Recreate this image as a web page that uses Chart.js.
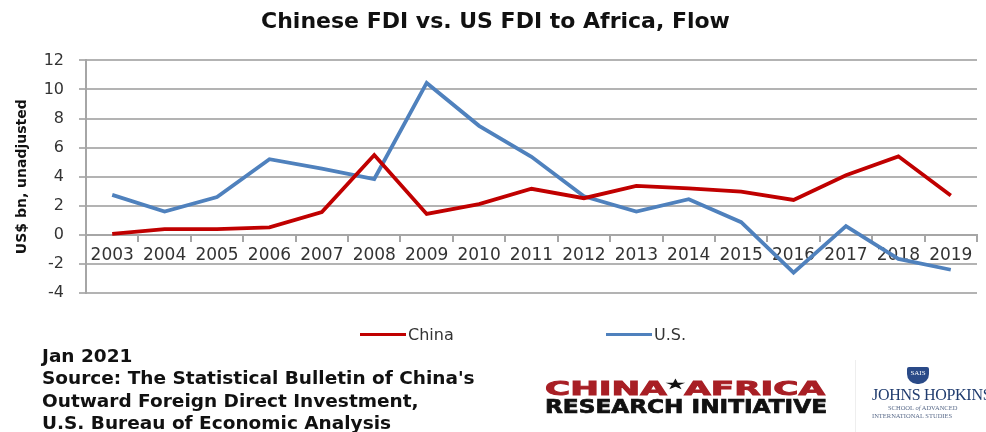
<!DOCTYPE html>
<html>
<head>
<meta charset="utf-8">
<script src="https://cdn.jsdelivr.net/npm/chart.js@4/dist/chart.umd.min.js"></script>
<style>
  html, body { margin: 0; padding: 0; background: #fff; }
  #wrap { position: relative; width: 986px; height: 432px; overflow: hidden; font-family: "DejaVu Sans", sans-serif; }
  #chart { position: absolute; left: 0; top: 0; }
  #legend { position: absolute; top: 325px; left: 0; width: 986px; height: 20px; font-size: 16px; color: #333; }
  #legend .item { position: absolute; top: 0; display: flex; align-items: center; }
  #legend .line { display: inline-block; width: 46px; height: 3px; margin-right: 2px; }
  #footer { position: absolute; left: 42px; top: 345px; font-weight: bold; font-size: 18.5px; line-height: 22.3px; color: #111; white-space: nowrap; }
  #logo { position: absolute; left: 0; top: 0; }
  #sep { position: absolute; left: 855px; top: 360px; width: 1px; height: 72px; background: #eee; }
  #jh { position: absolute; left: 872px; top: 367px; width: 120px; font-family: "Liberation Serif", serif; color: #1f3b6e; }
  #jh .shield { margin-left: 35px; width: 22px; height: 17px; background: #2a4a88; border-radius: 2px 2px 10px 10px; color: #fff; font-size: 7px; text-align: center; line-height: 12px; }
  #jh .name { font-size: 16px; letter-spacing: -0.3px; margin-top: 2px; white-space: nowrap; }
  #jh .sub { font-size: 6.5px; color: #5a6b8a; text-align: left; margin-left: 16px; line-height: 8px; white-space: nowrap; }
</style>
</head>
<body>
<div id="wrap">
  <canvas id="chart" width="986" height="432"></canvas>
  <div id="legend"></div>
  <div id="footer">Jan 2021<br>Source: The Statistical Bulletin of China's<br>Outward Foreign Direct Investment,<br>U.S. Bureau of Economic Analysis</div>
  <svg id="logo" width="986" height="432" font-family="DejaVu Sans" font-weight="bold">
    <text x="545" y="395" font-size="19.5" fill="#a81f25" stroke="#a81f25" stroke-width="0.9" textLength="280" lengthAdjust="spacingAndGlyphs">CHINA<tspan fill="#111" stroke="#111" font-size="11" dy="-7">★</tspan><tspan dy="7">AFRICA</tspan></text>
    <text x="545" y="413" font-size="19" fill="#111" stroke="#111" stroke-width="0.7" textLength="282" lengthAdjust="spacingAndGlyphs">RESEARCH INITIATIVE</text>
  </svg>
  <div id="sep"></div>
  <div id="jh"><div class="shield">SAIS</div><div class="name">JOHNS HOPKINS</div><div class="sub">SCHOOL <i>of</i> ADVANCED</div><div class="sub" style="margin-left:0">INTERNATIONAL STUDIES</div></div>
</div>
<script>
// 年份和数值
const years = ['2003', '2004', '2005', '2006', '2007', '2008', '2009', '2010', '2011',
               '2012', '2013', '2014', '2015', '2016', '2017', '2018', '2019'];
const chinaFdi = [0.07, 0.39, 0.39, 0.52, 1.57, 5.49, 1.44, 2.11, 3.17,
                  2.52, 3.37, 3.2, 2.98, 2.4, 4.1, 5.4, 2.7];
const usFdi = [2.75, 1.6, 2.6, 5.2, 4.55, 3.84, 10.45, 7.5, 5.37,
               2.65, 1.6, 2.45, 0.87, -2.6, 0.6, -1.65, -2.4];
const yTicks = [-4, -2, 0, 2, 4, 6, 8, 10, 12];

const seriesNames = ['China', 'U.S.'];
const seriesColors = ['#c00000', '#4f81bd'];

const ctx = document.getElementById('chart').getContext('2d');
const chart = new Chart(ctx, {
    type: 'line',
    data: {
        labels: years,
        datasets: [{
            label: seriesNames[0],
            data: chinaFdi,
            borderColor: seriesColors[0],
            borderWidth: 3.8,
            pointRadius: 0,
            tension: 0
        }, {
            label: seriesNames[1],
            data: usFdi,
            borderColor: seriesColors[1],
            borderWidth: 3.8,
            pointRadius: 0,
            tension: 0
        }]
    },
    options: {
        responsive: false,
        animation: false,
        layout: { padding: { left: 14, right: 9, top: 0, bottom: 139 } },
        plugins: {
            legend: { display: false },
            tooltip: { enabled: false },
            title: {
                display: true,
                text: 'Chinese FDI vs. US FDI to Africa, Flow',
                color: '#111',
                font: { family: 'DejaVu Sans', size: 22, weight: 'bold' },
                padding: { top: 9, bottom: 25 }
            }
        },
        scales: {
            x: {
                type: 'category',
                offset: true,
                position: { y: 0 },
                grid: { offset: true, drawOnChartArea: false, drawTicks: true, tickLength: 6, color: '#a6a6a6', lineWidth: 2 },
                border: { display: true, color: '#a6a6a6', width: 2 },
                ticks: { color: '#333', font: { family: 'DejaVu Sans', size: 17 }, padding: 5, maxRotation: 0, autoSkip: false }
            },
            y: {
                min: yTicks[0],
                max: yTicks[yTicks.length - 1],
                afterBuildTicks: s => { s.ticks = yTicks.map(v => ({ value: v })); },
                afterFit: s => { s.width = 72; },
                grid: { color: '#b3b3b3', lineWidth: 2, tickLength: 7 },
                border: { display: true, color: '#a6a6a6', width: 2 },
                ticks: { color: '#333', font: { family: 'DejaVu Sans', size: 16 }, padding: 15 },
                title: {
                    display: true,
                    text: 'US$ bn, unadjusted',
                    color: '#111',
                    font: { family: 'DejaVu Sans', size: 14, weight: 'bold' },
                    padding: { top: 0, bottom: 2 }
                }
            }
        }
    }
});

// 图例，放在图下方
const legendPos = [360, 606];
const legend = document.getElementById('legend');
chart.data.datasets.forEach((ds, i) => {
    const item = document.createElement('div');
    item.className = 'item';
    item.style.left = legendPos[i] + 'px';
    item.innerHTML = `<span class="line" style="background:${ds.borderColor}"></span>${ds.label}`;
    legend.appendChild(item);
});
</script>
</body>
</html>
